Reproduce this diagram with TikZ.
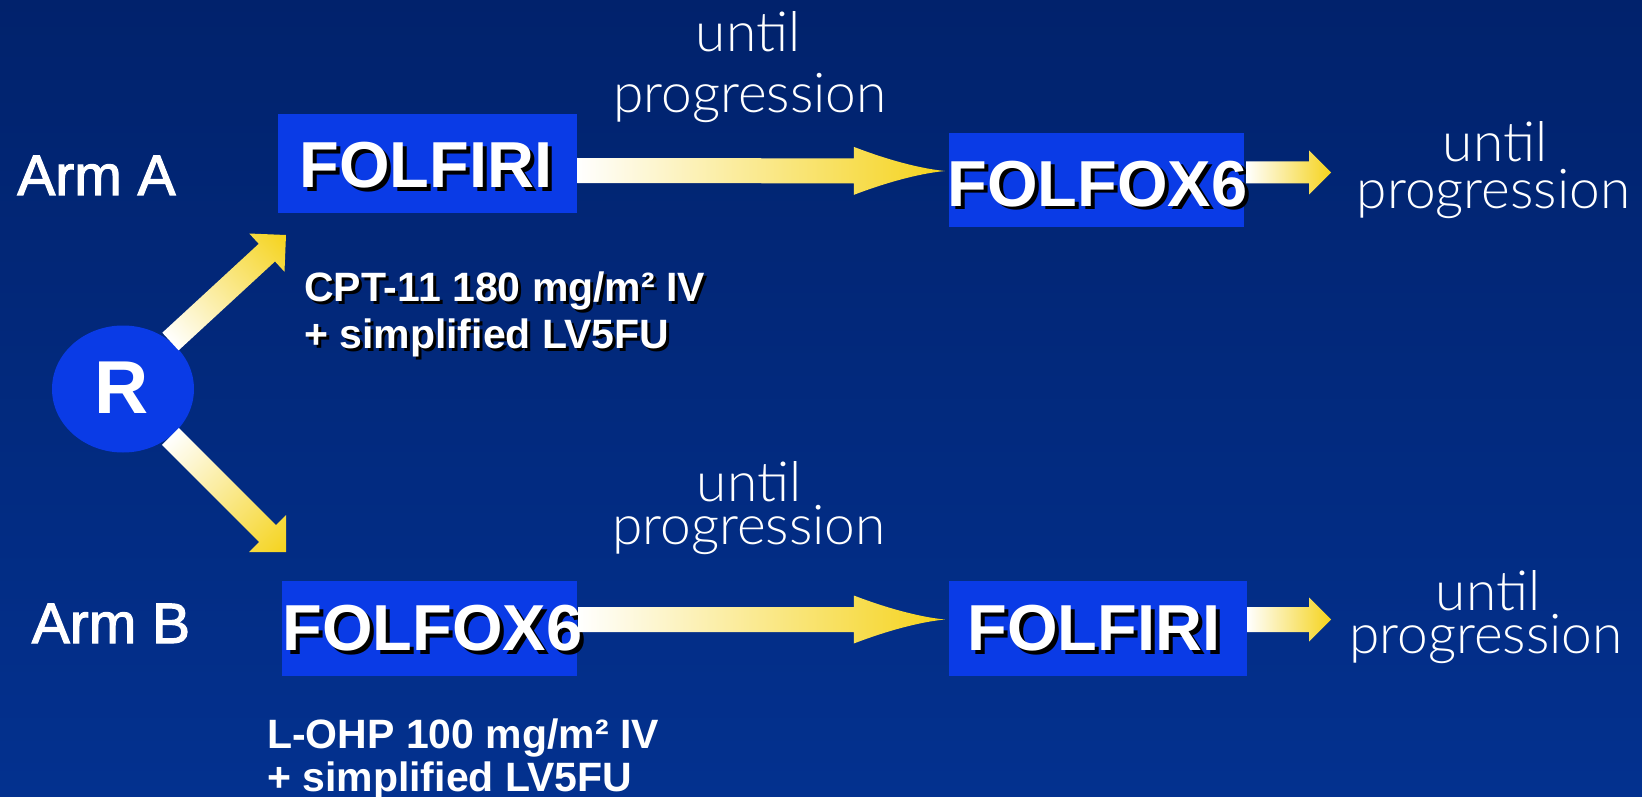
\documentclass[tikz,border=0pt]{standalone}
\usepackage{fontspec}
\setmainfont{Liberation Sans}
\newfontfamily\thinfont{Lato Light}
\newfontfamily\armfont{Liberation Sans}[FakeBold=2]
\usetikzlibrary{calc,shapes.geometric}

\definecolor{bgtop}{HTML}{01226C}
\definecolor{bgbot}{HTML}{03318F}
\definecolor{boxblue}{HTML}{0A3BE6}
\definecolor{arrowyel}{HTML}{F5D31C}

% white text with a black drop shadow offset by #1
\newcommand\shadowed[2]{\makebox[0pt][l]{\hspace{#1}\raisebox{-#1}{\color{black}#2}}#2}

% measure the segment tail -> tip (canvas angle and length)
\newcommand\gaprep[2]{%
  \path let \p1=(#1), \p2=(#2),
    \n1={atan2(\y2-\y1,\x2-\x1)}, \n2={veclen(\x2-\x1,\y2-\y1)} in
    \pgfextra{\xdef\gaX{\x1}\xdef\gaY{\y1}\xdef\gaA{\n1}\xdef\gaL{\n2}};}

% block arrow with a straight triangular head: tail, tip, shaft half width, head half width, head length
\newcommand\blockarrow[5]{%
  \gaprep{#1}{#2}%
  \shade[arrowfill, transform canvas={shift={(\gaX,\gaY)},rotate=\gaA}]
    (0pt,-#3) -- ({\gaL-#5},-#3) -- ({\gaL-#5},-#4) -- (\gaL,0pt)
    -- ({\gaL-#5},#4) -- ({\gaL-#5},#3) -- (0pt,#3) -- cycle;}

% block arrow with a long, concave head
\newcommand\taperarrow[2]{%
  \gaprep{#1}{#2}%
  \shade[arrowfill, transform canvas={shift={(\gaX,\gaY)},rotate=\gaA}]
    (0pt,-12.5pt) -- ({\gaL-91pt},-12.5pt) -- ({\gaL-91pt},-24pt)
    .. controls ({\gaL-65pt},-14pt) and ({\gaL-30pt},-3pt) .. (\gaL,0pt)
    .. controls ({\gaL-30pt},3pt) and ({\gaL-65pt},14pt) .. ({\gaL-91pt},24pt)
    -- ({\gaL-91pt},12.5pt) -- (0pt,12.5pt) -- cycle;}

\tikzset{
  arrowfill/.style={left color=white, right color=arrowyel},
  drugbox/.style={rectangle, fill=boxblue, inner sep=0pt},
  drugname/.style={anchor=base, inner sep=0pt, text=white,
    font=\fontsize{65}{70}\selectfont\bfseries},
  armlabel/.style={anchor=base, inner sep=0pt, text=white,
    font=\armfont\fontsize{57}{62}\selectfont},
  note/.style={anchor=base, inner sep=0pt, text=white,
    font=\thinfont\fontsize{55}{60}\selectfont},
  dose/.style={anchor=base west, inner sep=0pt, text=white,
    font=\fontsize{41}{45}\selectfont\bfseries},
}

\begin{document}
\begin{tikzpicture}[x=1pt, y=-1pt]
  % background
  \shade[top color=bgtop, bottom color=bgbot] (0,0) rectangle (1642,797);
  \useasboundingbox (0,0) rectangle (1642,797);

  % randomisation
  \node[ellipse, fill=boxblue, minimum width=142pt, minimum height=127pt, inner sep=0pt] (R) at (123,389) {};
  \node[anchor=base, inner sep=0pt, text=white, font=\fontsize{75}{80}\selectfont\bfseries] (Rtxt) at (121.5,413) {R};

  % arm labels
  \node[armlabel] (armA) at (96.5,195) {Arm A};
  \node[armlabel] (armB) at (111,643) {Arm B};

  % treatment boxes
  \node[drugbox, minimum width=299pt, minimum height=99pt] (a1) at (427.5,163.5) {};
  \node[drugbox, minimum width=295pt, minimum height=94pt] (a2) at (1096.5,180) {};
  \node[drugbox, minimum width=295pt, minimum height=95pt] (b1) at (429.5,628.5) {};
  \node[drugbox, minimum width=298pt, minimum height=95pt] (b2) at (1098,628.5) {};

  \node[drugname] (a1t) at (426,187) {\shadowed{4pt}{FOLFIRI}};
  \node[drugname] (a2t) at (1097.5,206) {\shadowed{4pt}{FOLFOX6}};
  \node[drugname] (b1t) at (432.5,650) {\shadowed{4pt}{FOLFOX6}};
  \node[drugname] (b2t) at (1094,650) {\shadowed{4pt}{FOLFIRI}};

  % doses
  \node[dose] (cpt1) at (304,301) {\shadowed{3pt}{CPT-11 180 mg/m² IV}};
  \node[dose] (cpt2) at (304,348) {\shadowed{3pt}{+ simplified LV5FU}};
  \node[dose] (ohp1) at (267,748) {L-OHP 100 mg/m² IV};
  \node[dose] (ohp2) at (267,791) {+ simplified LV5FU};

  % duration notes
  \node[note] (na1) at (748,52) {until};
  \node[note] (na2) at (750,113) {progression};
  \node[note] (nb1) at (749,501) {until};
  \node[note] (nb2) at (749,544) {progression};
  \node[note] (nc1) at (1495,162) {until};
  \node[note] (nc2) at (1493.5,208) {progression};
  \node[note] (nd1) at (1488,610) {until};
  \node[note] (nd2) at (1486,653) {progression};

  % free arrow ends
  \coordinate (tipA) at (286,235);
  \coordinate (tipB) at (286,552);
  \coordinate (endA) at (1331,172.5);
  \coordinate (endB) at (1331,619.5);

  % connectors
  \blockarrow{R.45}{tipA}{12pt}{26pt}{26pt}
  \blockarrow{R.-45}{tipB}{12pt}{26pt}{26pt}
  \taperarrow{$(a1.east)+(0,7)$}{$(a2.west)+(-4,-9)$}
  \taperarrow{$(b1.east)+(1,-9)$}{$(b2.west)+(-4,-9)$}
  \blockarrow{$(a2.east)+(2,-7.5)$}{endA}{11pt}{22pt}{22pt}
  \blockarrow{$(b2.east)+(0,-9)$}{endB}{12.5pt}{22pt}{22pt}
\end{tikzpicture}
\end{document}
